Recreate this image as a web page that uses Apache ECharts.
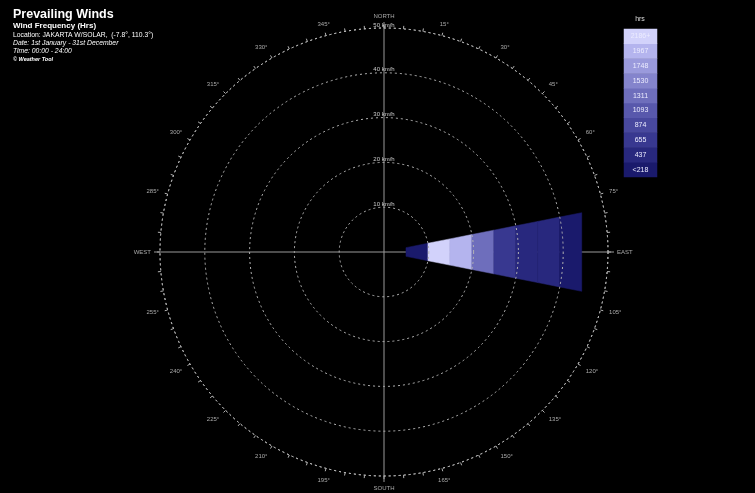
<!DOCTYPE html>
<html><head><meta charset="utf-8">
<script src="https://cdn.jsdelivr.net/npm/echarts@6/dist/echarts.min.js"></script>
<style>html,body{margin:0;padding:0;background:#000}#c{width:755px;height:493px}</style>
</head><body><div id="c"></div>
<script>
// ---- data ----
const directions = ['N','NNE','NE','ENE','E','ESE','SE','SSE','S','SSW','SW','WSW','W','WNW','NW','NNW'];
const directionAngles = [0,22.5,45,67.5,90,112.5,135,157.5,180,202.5,225,247.5,270,292.5,315,337.5];
const speedEdges = [0,5,10,15,20,25,30,35,40,45,50];
const hoursE = [0, 90, 2300, 1900, 1180, 560, 330, 240, 150, 0];
const legendLabels = ['<218','437','655','874','1093','1311','1530','1748','1967','2186+'];
const legendLower = [0,218,437,655,874,1093,1311,1530,1748,1967];
const angleTickLabels = {0:'NORTH',90:'EAST',180:'SOUTH',270:'WEST'};
const radiusTicks = [10,20,30,40,50];

const palette = ['#1a1a6c','#28287e','#383890','#48489e','#5858ac','#6e6ebc','#8484cc','#9a9adc','#b4b4ee','#d2d2fb'];

const sectorWidth = 22.5;
const windData = [];
hoursE.forEach((h, i) => {
  if (h > 0) windData.push([directionAngles[4], speedEdges[i], speedEdges[i+1], h]);
});

const pieces = legendLower.map((lo, i) => ({
  min: lo,
  max: i < legendLower.length - 1 ? legendLower[i+1] - 0.001 : 1e9,
  color: palette[i]
}));

const chart = echarts.init(document.getElementById('c'));
const axisGrey = '#b4b4b4';
const ff = 'Liberation Sans';
chart.setOption({
  backgroundColor: '#000',
  animation: false,
  title: [
    {text: 'Prevailing Winds', left: 13, top: 8, padding: 0, textStyle: {color: '#fff', fontSize: 12.5, fontWeight: 'bold', fontFamily: ff}},
    {text: 'Wind Frequency (Hrs)', left: 13, top: 22, padding: 0, textStyle: {color: '#fff', fontSize: 8, fontWeight: 'bold', fontFamily: ff}},
    {text: 'Location: JAKARTA W/SOLAR,  (-7.8°, 110.3°)', left: 13, top: 32, padding: 0, textStyle: {color: '#fff', fontSize: 6.8, fontWeight: 'normal', fontFamily: ff}},
    {text: 'Date: 1st January - 31st December', left: 13, top: 40, padding: 0, textStyle: {color: '#fff', fontSize: 6.8, fontStyle: 'italic', fontWeight: 'normal', fontFamily: ff}},
    {text: 'Time: 00:00 - 24:00', left: 13, top: 48, padding: 0, textStyle: {color: '#fff', fontSize: 6.8, fontStyle: 'italic', fontWeight: 'normal', fontFamily: ff}},
    {text: '© Weather Tool', left: 13, top: 56, padding: 0, textStyle: {color: '#fff', fontSize: 5.5, fontStyle: 'italic', fontWeight: 'bold', fontFamily: ff}},
    {text: 'hrs', left: 640, top: 16, padding: 0, textAlign: 'center', textStyle: {color: '#ddd', fontSize: 7, fontWeight: 'normal', fontFamily: ff}}
  ],
  polar: [
    {center: [384, 252], radius: 224},
    {center: [384, 252], radius: 230}
  ],
  angleAxis: [
    {
      polarIndex: 0, type: 'value', min: 0, max: 360, interval: 15, startAngle: 90, clockwise: true,
      axisLine: {show: true, lineStyle: {color: axisGrey, type: [2, 3], width: 1}},
      axisTick: {show: true, length: 3, lineStyle: {color: axisGrey}},
      minorTick: {show: true, splitNumber: 3, length: 3, lineStyle: {color: axisGrey}},
      splitLine: {show: false},
      axisLabel: {color: '#aaa', fontSize: 6, fontFamily: ff, margin: 9,
        formatter: v => (angleTickLabels[v] !== undefined ? angleTickLabels[v] : (v === 360 ? '' : v + '°'))}
    },
    {
      polarIndex: 1, type: 'value', min: 0, max: 360, interval: 90, startAngle: 90, clockwise: true,
      axisLine: {show: false}, axisTick: {show: false}, axisLabel: {show: false},
      splitLine: {show: true, lineStyle: {color: '#9a9a9a', width: 1, type: 'solid'}}
    }
  ],
  radiusAxis: [
    {
      polarIndex: 0, type: 'value', min: 0, max: 50, interval: 10, z: 5,
      axisLine: {show: false}, axisTick: {show: false},
      splitLine: {show: true, lineStyle: {color: axisGrey, type: [2, 3], width: 1}},
      axisLabel: {color: '#ccc', fontSize: 6, fontFamily: ff, margin: 0, align: 'center', verticalAlign: 'bottom', rotate: 0,
        formatter: v => (radiusTicks.indexOf(v) >= 0 ? v + ' km/h' : '')}
    },
    {
      polarIndex: 1, type: 'value', min: 0, max: 50, show: true,
      axisLine: {show: false}, axisTick: {show: false}, axisLabel: {show: false}, splitLine: {show: false}
    }
  ],
  grid: {left: 624, top: 29, width: 33, height: 148},
  xAxis: {type: 'category', data: ['hrs'], show: false},
  yAxis: {type: 'category', data: legendLabels, show: false},
  visualMap: [
    {type: 'piecewise', show: false, dimension: 3, seriesIndex: 0, pieces: pieces},
    {type: 'piecewise', show: false, dimension: 2, seriesIndex: 1, pieces: pieces}
  ],
  series: [
    {
      type: 'custom', coordinateSystem: 'polar', polarIndex: 0, z: 3,
      data: windData,
      renderItem: function (params, api) {
        const ang = api.value(0), lo = api.value(1), hi = api.value(2);
        const a1 = ang - sectorWidth / 2, a2 = ang + sectorWidth / 2;
        const pts = [api.coord([lo, a1]), api.coord([hi, a1]), api.coord([hi, a2]), api.coord([lo, a2])];
        return {
          type: 'polygon',
          shape: {points: pts},
          style: {fill: api.visual('color'), stroke: api.visual('color'), lineWidth: 0.5}
        };
      }
    },
    {
      type: 'heatmap', xAxisIndex: 0, yAxisIndex: 0,
      data: legendLower.map((v, i) => [0, i, v]),
      label: {show: true, color: '#ececff', fontSize: 7, fontFamily: ff,
        formatter: p => legendLabels[p.data[1]]},
      itemStyle: {borderWidth: 0}
    }
  ]
});
</script></body></html>
